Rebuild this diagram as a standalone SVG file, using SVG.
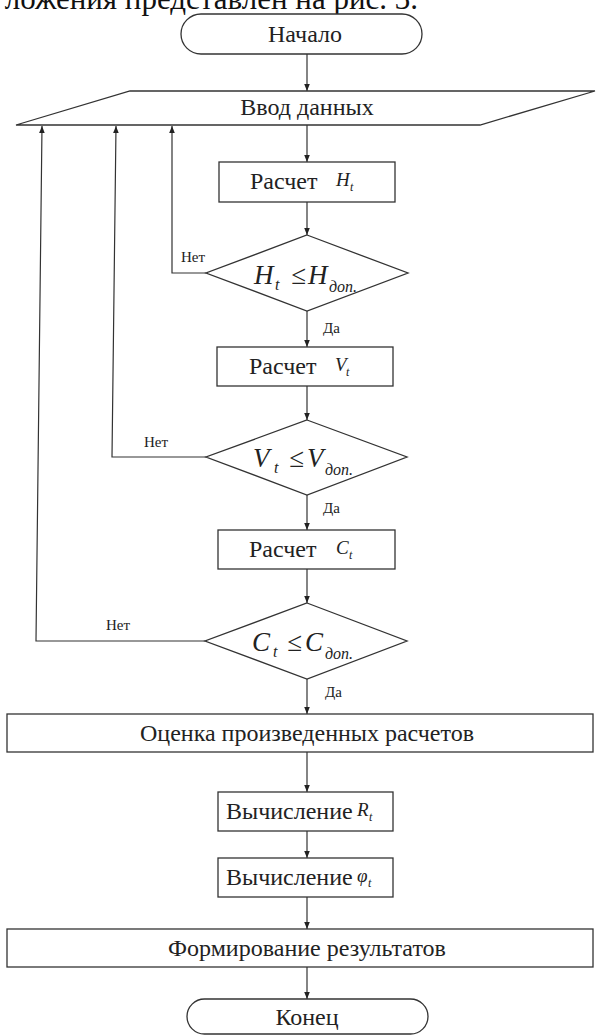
<svg xmlns="http://www.w3.org/2000/svg" width="598" height="1035" viewBox="0 0 598 1035">
<defs>
<marker id="ah" viewBox="0 0 10 10" refX="10" refY="5" markerWidth="7" markerHeight="7" markerUnits="userSpaceOnUse" orient="auto">
<path d="M0,1 L10,5 L0,9 Z" fill="#222"/>
</marker>
<style>
.s{fill:#fff;stroke:#333;stroke-width:1.3}
.t{font-family:"Liberation Serif","Times New Roman",serif;font-size:24px;fill:#222}
.m{font-family:"Liberation Serif","Times New Roman",serif;font-style:italic;fill:#222}
.l{font-family:"Liberation Serif","Times New Roman",serif;font-size:15px;fill:#222}
.c{fill:none;stroke:#333;stroke-width:1.2;marker-end:url(#ah)}
</style>
</defs>
<rect width="598" height="1035" fill="#fff"/>
<text x="418" y="9" text-anchor="end" font-family="Liberation Serif, serif" font-size="31" fill="#111">ложения представлен на рис. 3.</text>

<g id="connectors">
<path class="c" d="M307,54 V91"/>
<path class="c" d="M307,125 V162"/>
<path class="c" d="M307,202 V235"/>
<path class="c" d="M307,311 V347"/>
<path class="c" d="M307,386 V420"/>
<path class="c" d="M307,495 V530"/>
<path class="c" d="M307,569 V603"/>
<path class="c" d="M307,679 V714"/>
<path class="c" d="M307,752 V792"/>
<path class="c" d="M307,831 V858"/>
<path class="c" d="M307,897 V929"/>
<path class="c" d="M307,967 V999"/>
<path class="c" d="M206,273 H172 V126"/>
<path class="c" d="M206,457 H112 L116,126"/>
<path class="c" d="M205,641 H36 L42,126"/>
<text class="l" x="181" y="262">Нет</text>
<text class="l" x="144" y="447">Нет</text>
<text class="l" x="106" y="630">Нет</text>
<text class="l" x="323" y="333">Да</text>
<text class="l" x="323" y="513">Да</text>
<text class="l" x="325" y="697">Да</text>
</g>

<g id="start">
<rect class="s" x="181" y="14" width="241" height="40" rx="20"/>
<text class="t" x="305" y="42" text-anchor="middle">Начало</text>
</g>
<g id="input">
<path class="s" d="M130,91 H595 L480,125 H16 Z"/>
<text class="t" x="307" y="115" text-anchor="middle">Ввод данных</text>
</g>
<g id="calcH">
<rect class="s" x="219" y="162" width="176" height="40"/>
<text class="t" x="250" y="189">Расчет</text>
<text class="m" font-size="19" x="336" y="186">H</text>
<text class="m" font-size="12" x="350" y="191">t</text>
</g>
<g id="decH">
<path class="s" d="M307,235 L408,273 L307,311 L206,273 Z"/>
<text class="m" font-size="27" y="284"><tspan x="254">H</tspan><tspan x="275" dy="6" font-size="16">t</tspan><tspan x="291" dy="-6">≤</tspan><tspan x="308">H</tspan><tspan x="329" dy="8" font-size="16">доп.</tspan></text>
</g>
<g id="calcV">
<rect class="s" x="217" y="347" width="176" height="39"/>
<text class="t" x="249" y="374">Расчет</text>
<text class="m" font-size="19" x="335" y="371">V</text>
<text class="m" font-size="12" x="346" y="376">t</text>
</g>
<g id="decV">
<path class="s" d="M307,420 L407,457 L307,495 L206,457 Z"/>
<text class="m" font-size="27" y="467"><tspan x="253">V</tspan><tspan x="274" dy="6" font-size="16">t</tspan><tspan x="289" dy="-6">≤</tspan><tspan x="307">V</tspan><tspan x="325" dy="8" font-size="16">доп.</tspan></text>
</g>
<g id="calcC">
<rect class="s" x="218" y="530" width="177" height="39"/>
<text class="t" x="249" y="557">Расчет</text>
<text class="m" font-size="19" x="336" y="554">C</text>
<text class="m" font-size="12" x="349" y="559">t</text>
</g>
<g id="decC">
<path class="s" d="M307,603 L407,641 L307,679 L205,641 Z"/>
<text class="m" font-size="27" y="651"><tspan x="252">C</tspan><tspan x="273" dy="6" font-size="16">t</tspan><tspan x="287" dy="-6">≤</tspan><tspan x="305">C</tspan><tspan x="325" dy="8" font-size="16">доп.</tspan></text>
</g>
<g id="eval">
<rect class="s" x="7" y="714" width="586" height="38"/>
<text class="t" x="307" y="741" text-anchor="middle">Оценка произведенных расчетов</text>
</g>
<g id="calcR">
<rect class="s" x="218" y="792" width="175" height="39"/>
<text class="t" x="226" y="819">Вычисление</text>
<text class="m" font-size="19" x="357" y="816">R</text>
<text class="m" font-size="12" x="369" y="821">t</text>
</g>
<g id="calcPhi">
<rect class="s" x="218" y="858" width="175" height="39"/>
<text class="t" x="226" y="885">Вычисление</text>
<text class="m" font-size="19" x="357" y="882">φ</text>
<text class="m" font-size="12" x="368" y="887">t</text>
</g>
<g id="results">
<rect class="s" x="7" y="929" width="586" height="38"/>
<text class="t" x="307" y="956" text-anchor="middle">Формирование результатов</text>
</g>
<g id="end">
<rect class="s" x="187" y="999" width="241" height="35" rx="17.5"/>
<text class="t" x="307" y="1025" text-anchor="middle">Конец</text>
</g>
</svg>
